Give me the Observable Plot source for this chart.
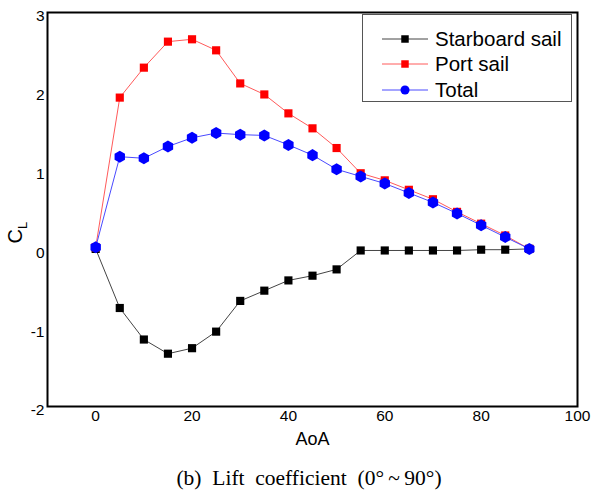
<!DOCTYPE html>
<html>
<head>
<meta charset="utf-8">
<script src="https://cdn.jsdelivr.net/npm/d3@7"></script>
<script src="https://cdn.jsdelivr.net/npm/@observablehq/plot@0.6"></script>
<style>
  body { margin: 0; background: #fff; }
  #wrap { position: relative; width: 592px; height: 492px; }
  #wrap > svg { display: block; }
  #legend {
    position: absolute; left: 362px; top: 14px; width: 210px; height: 88px;
    border: 1px solid #555; background: #fff; box-sizing: border-box;
    font-family: "Liberation Sans", Arial, sans-serif; font-size: 20.5px; color: #000;
  }
  #legend .row { position: absolute; left: 0; height: 24px; display: flex; align-items: center; }
  #legend svg { margin-left: 19px; margin-right: 7px; }
  #caption {
    position: absolute; left: 309px; top: 465px; transform: translateX(-50%);
    font-family: "Liberation Serif", "Times New Roman", serif; font-size: 21.5px;
    white-space: pre; line-height: 26px; color: #000;
  }
</style>
</head>
<body>
<div id="wrap"></div>
<script>
// Lift coefficient vs angle of attack (degrees)
const aoa = [0, 5, 10, 15, 20, 25, 30, 35, 40, 45, 50, 55, 60, 65, 70, 75, 80, 85, 90];
const starboard = [0.00, -0.75, -1.15, -1.33, -1.26, -1.05, -0.66, -0.53, -0.40, -0.34, -0.26, -0.02, -0.02, -0.02, -0.02, -0.02, -0.01, -0.01, 0.00];
const port = [0.02, 1.92, 2.30, 2.63, 2.66, 2.52, 2.10, 1.96, 1.72, 1.53, 1.28, 0.96, 0.87, 0.75, 0.63, 0.47, 0.32, 0.17, 0.00];
const total = [0.02, 1.17, 1.15, 1.30, 1.41, 1.47, 1.45, 1.44, 1.32, 1.19, 1.01, 0.92, 0.83, 0.71, 0.59, 0.45, 0.30, 0.15, 0.00];

const seriesNames = ["Starboard sail", "Port sail", "Total"];
const lineColors = ["#444444", "#ff5a5a", "#4a4aff"];
const markColors = ["#000000", "#ff0000", "#0000ff"];
const symbols = ["square", "square", "hexagon"];
const xTicks = [0, 20, 40, 60, 80, 100];
const yTicks = [-2, -1, 0, 1, 2, 3];

const seriesValues = [starboard, port, total];
const rows = seriesValues.map((vals, s) =>
  aoa.map((a, i) => ({series: seriesNames[s], aoa: a, cl: vals[i]}))
);

const marks = [];
rows.forEach((data, s) => {
  marks.push(Plot.line(data, {x: "aoa", y: "cl", stroke: lineColors[s], strokeWidth: 1}));
});
rows.forEach((data, s) => {
  marks.push(Plot.dot(data, {x: "aoa", y: "cl", symbol: symbols[s], fill: markColors[s], stroke: "none", r: s === 2 ? 5.2 : 4.6}));
});

const chart = Plot.plot({
  width: 592,
  height: 460,
  marginLeft: 47,
  marginRight: 15,
  marginTop: 12,
  marginBottom: 54,
  style: {fontFamily: "'Liberation Sans', Arial, sans-serif", background: "#fff", color: "#000"},
  x: {domain: [-10, 100], ticks: xTicks, label: null},
  y: {domain: [-2, 3], ticks: yTicks, label: null},
  marks: [
    Plot.axisX({ticks: xTicks, tickSize: 0, tickPadding: 3, fontSize: 15.5, tickFormat: d3.format("d"), label: null}),
    Plot.axisY({ticks: yTicks, tickSize: 0, tickPadding: 3, fontSize: 15.5, dy: 4, tickFormat: d => d3.format("d")(d).replace("\u2212", "-"), label: null}),
    ...marks,
    Plot.frame({stroke: "#000", strokeWidth: 2}),
    Plot.text(["AoA"], {frameAnchor: "bottom", dy: 38, fontSize: 18, text: d => d, letterSpacing: "2px"})
  ]
});

// Rotated y-axis title: C with subscript L
const ys = chart.scale("y");
const svg = d3.select(chart);
const yTitle = svg.append("text")
  .attr("transform", `translate(22,${ys.apply(0.2)}) rotate(-90)`)
  .attr("font-family", "'Liberation Sans', Arial, sans-serif")
  .attr("font-size", 20)
  .attr("text-anchor", "middle");
yTitle.append("tspan").text("C");
yTitle.append("tspan").attr("font-size", 13).attr("dy", 5).text("L");

const wrap = document.getElementById("wrap");
wrap.appendChild(chart);

// Legend box
const legend = document.createElement("div");
legend.id = "legend";
const rowTops = [12, 37, 63];
seriesNames.forEach((name, s) => {
  const row = document.createElement("div");
  row.className = "row";
  row.style.top = rowTops[s] + "px";
  const sw = d3.create("svg").attr("width", 46).attr("height", 12);
  sw.append("line").attr("x1", 0).attr("x2", 46).attr("y1", 6).attr("y2", 6)
    .attr("stroke", lineColors[s]).attr("stroke-width", 1);
  const sym = symbols[s] === "hexagon" ? d3.symbol(d3.symbolCircle, 64) : d3.symbol(d3.symbolSquare, 56);
  sw.append("path").attr("d", sym()).attr("transform", "translate(23,6)").attr("fill", markColors[s]);
  row.appendChild(sw.node());
  const label = document.createElement("span");
  label.textContent = name;
  row.appendChild(label);
  legend.appendChild(row);
});
wrap.appendChild(legend);

const caption = document.createElement("div");
caption.id = "caption";
caption.textContent = "(b)  Lift  coefficient  (0°\u2009~\u200990°)";
wrap.appendChild(caption);
</script>
</body>
</html>
